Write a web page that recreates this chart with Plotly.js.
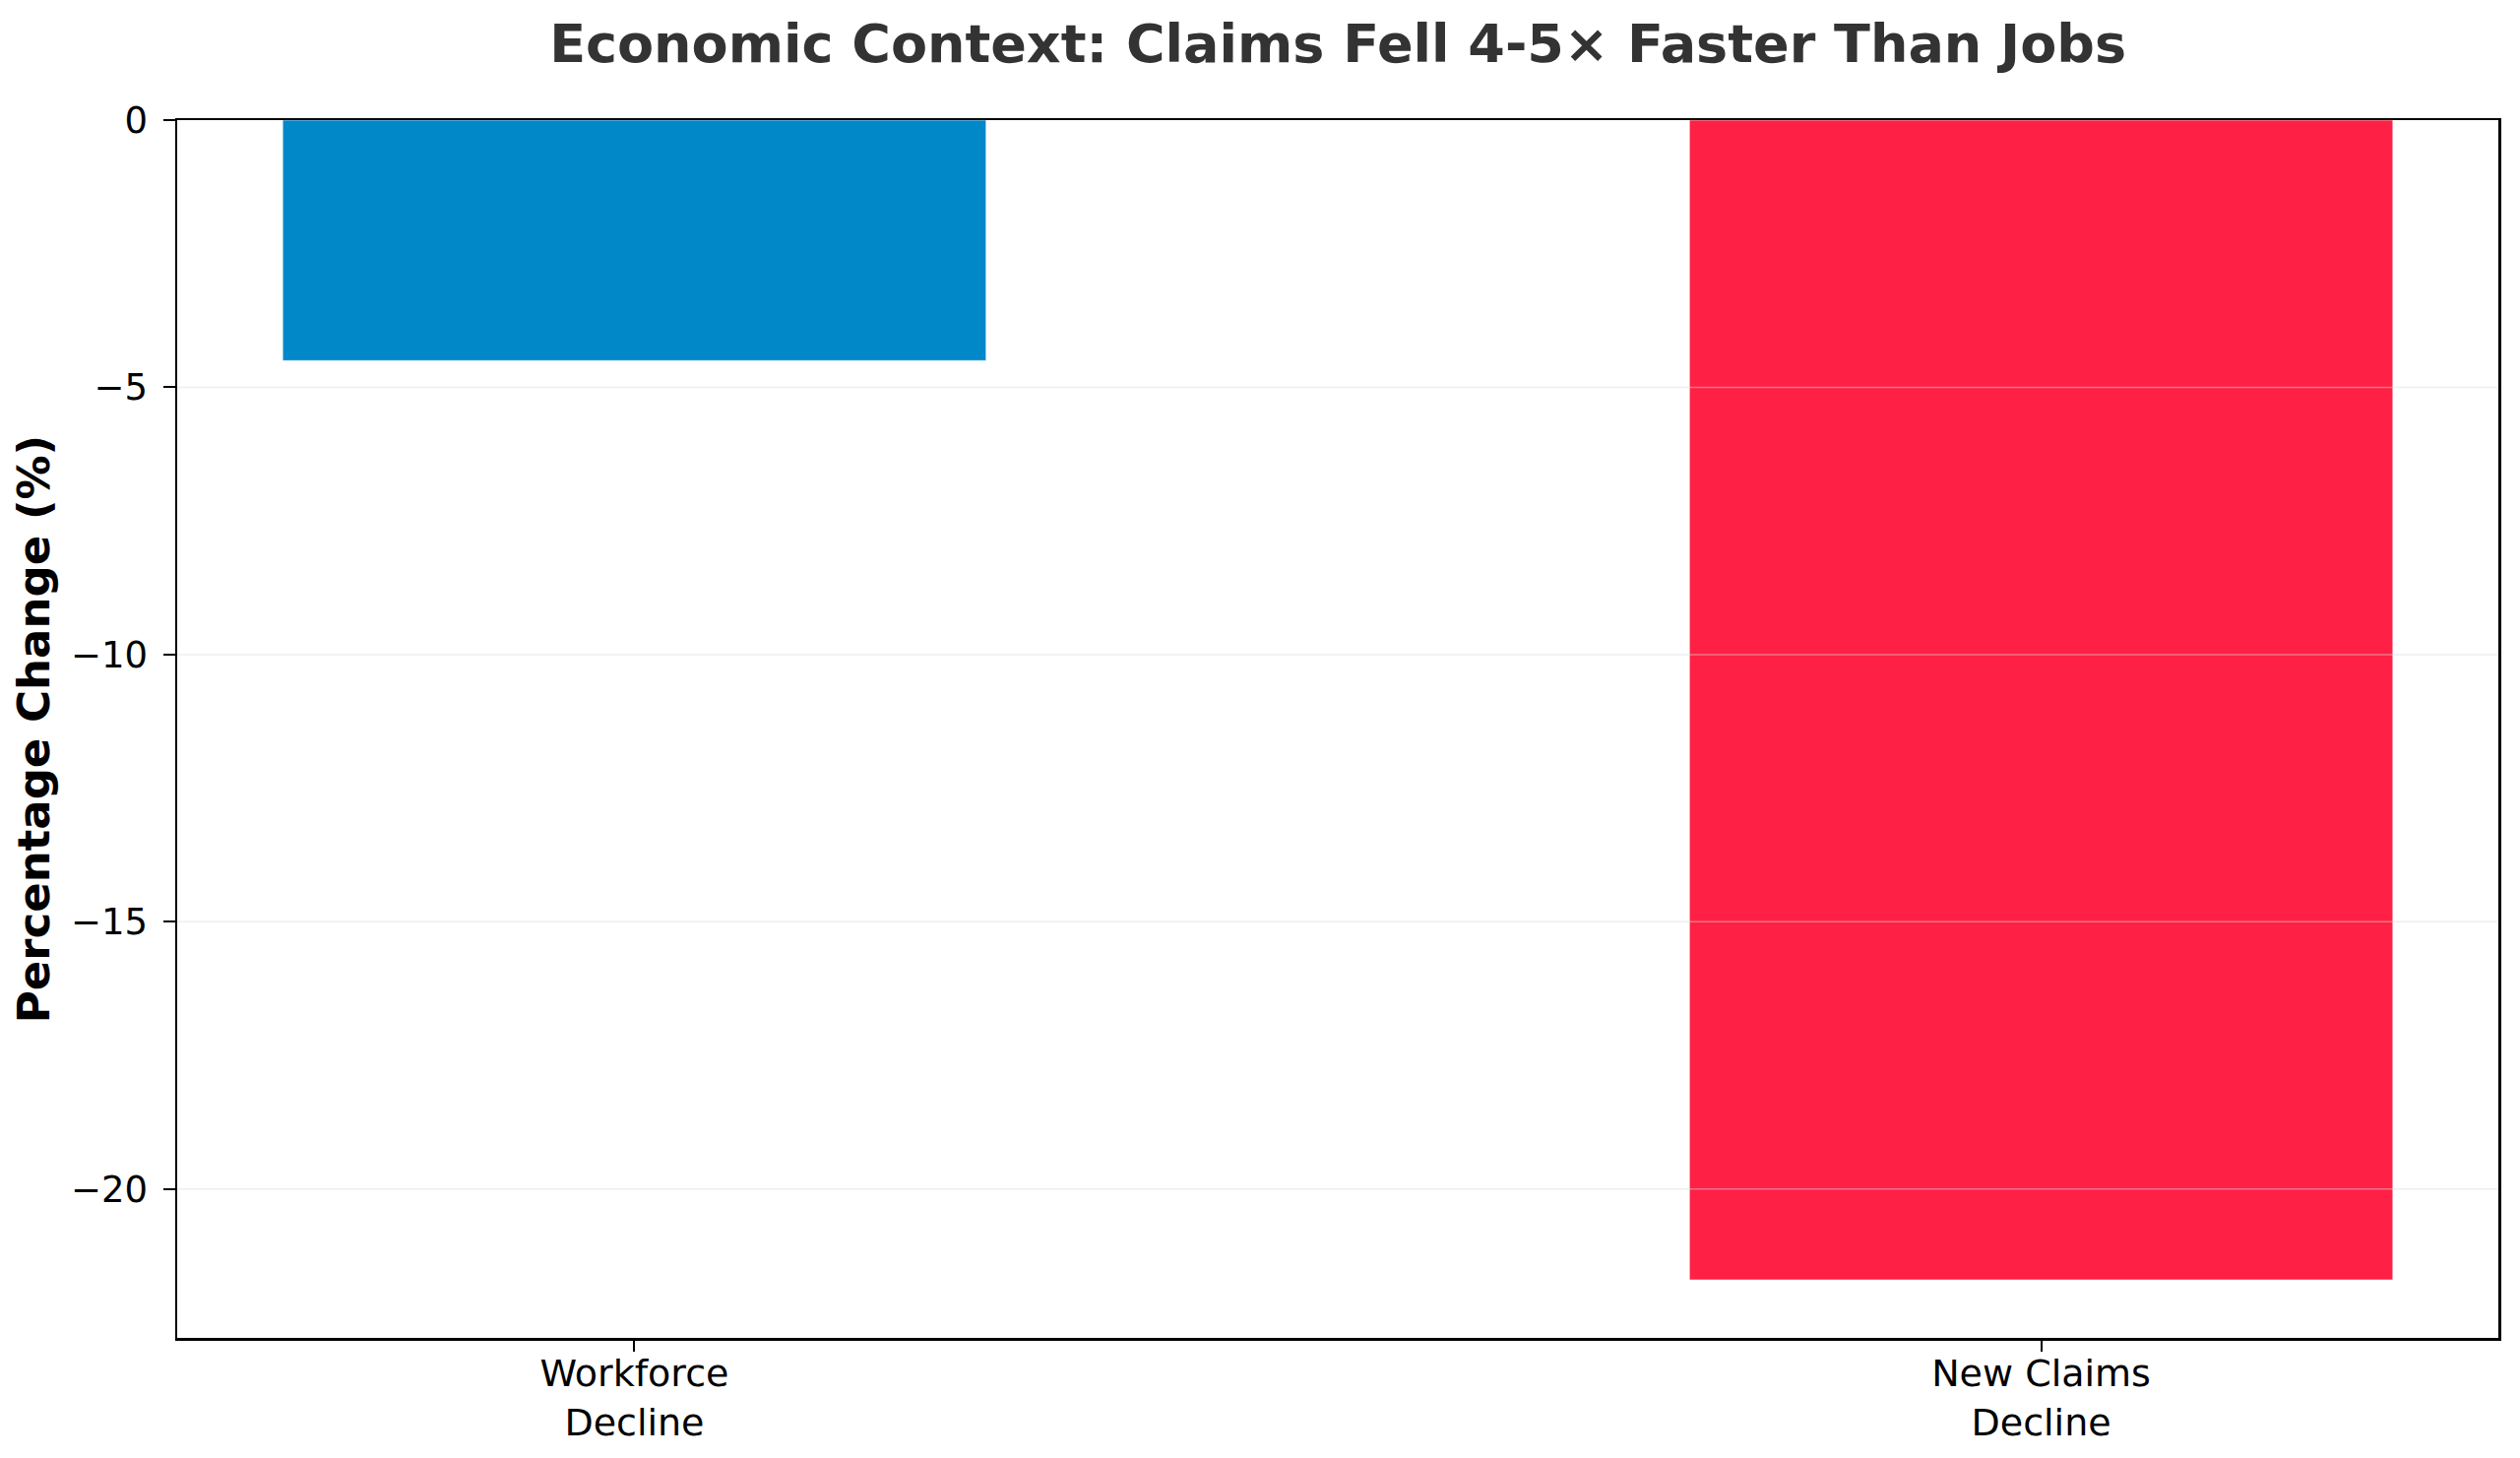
<!DOCTYPE html>
<html>
<head>
<meta charset="utf-8">
<script src="https://cdn.plot.ly/plotly-3.0.1.min.js"></script>
<style>html,body{margin:0;padding:0;background:#fff;}#chart{width:2560px;height:1481px;}</style>
</head>
<body>
<div id="chart"></div>
<script>
// ---- data ----
const categories = ["Workforce<br>Decline", "New Claims<br>Decline"];
const positions = [0, 1];
const values = [-4.5, -21.7];
const barColors = ["#0088C8", "#FE2045"];
const yTickVals = [0, -5, -10, -15, -20];
const gridVals = [-5, -10, -15, -20];

const FONT = "DejaVu Sans, Liberation Sans, sans-serif";

const trace = {
  type: "bar",
  x: positions,
  y: values,
  width: 0.5,
  marker: {color: barColors, line: {color: "rgba(255,255,255,0.6)", width: 1}},
  hoverinfo: "skip"
};

const shapes = gridVals.map(v => ({
  type: "line", xref: "paper", yref: "y", x0: 0, x1: 1, y0: v, y1: v,
  line: {color: "rgba(215,220,220,0.45)", width: 1.5}, layer: "above"
}));

const layout = {
  width: 2560, height: 1481,
  margin: {l: 180, r: 22, t: 122, b: 122},
  paper_bgcolor: "#ffffff", plot_bgcolor: "#ffffff",
  showlegend: false,
  title: {
    text: "<b>Economic Context: Claims Fell 4-5× Faster Than Jobs</b>",
    font: {family: FONT, size: 54, color: "#333333"},
    x: 0.5309, xref: "container", xanchor: "center",
    y: 1 - 44/1481, yref: "container", yanchor: "middle"
  },
  xaxis: {
    range: [-0.325, 1.325],
    tickmode: "array", tickvals: positions, ticktext: categories,
    showgrid: false, zeroline: false,
    showline: true, linecolor: "#000", linewidth: 2.5, mirror: true,
    ticks: "outside", ticklen: 11, tickwidth: 2, tickcolor: "#000",
    tickfont: {family: FONT, size: 38, color: "#000"},
    ticklabelstandoff: -10
  },
  yaxis: {
    range: [-22.785, 0],
    tickmode: "array", tickvals: yTickVals,
    showgrid: false, zeroline: false,
    showline: true, linecolor: "#000", linewidth: 2.5, mirror: true,
    ticks: "outside", ticklen: 12, tickwidth: 2, tickcolor: "#000",
    tickfont: {family: FONT, size: 37, color: "#000"},
    ticklabelstandoff: 8,
    title: {text: "<b>Percentage Change (%)</b>", font: {family: FONT, size: 45, color: "#000"}, standoff: 8}
  },
  shapes: shapes
};

Plotly.newPlot("chart", [trace], layout, {displayModeBar: false, staticPlot: true});
</script>
</body>
</html>
